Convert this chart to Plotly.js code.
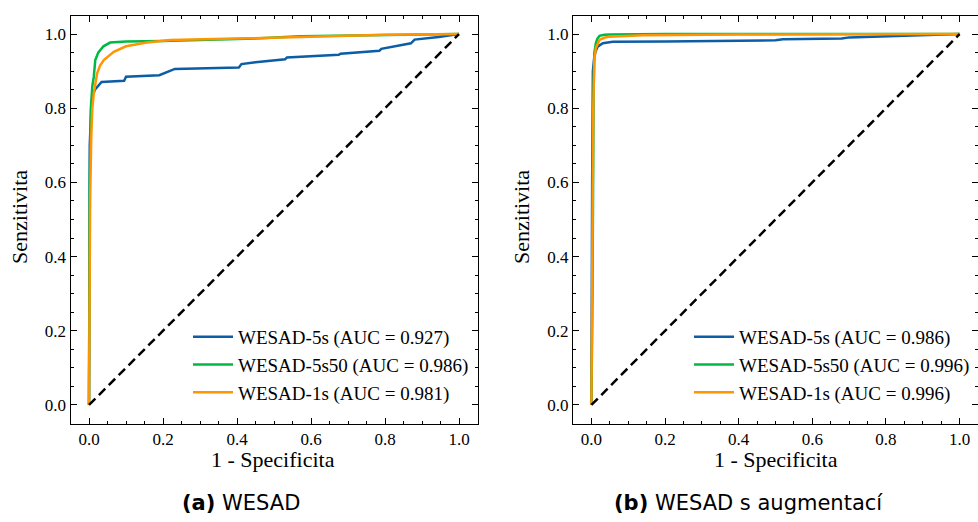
<!DOCTYPE html>
<html><head><meta charset="utf-8">
<script src="https://cdn.plot.ly/plotly-3.0.1.min.js"></script>
<style>html,body{margin:0;padding:0;background:#fff}#chart{width:978px;height:522px}</style>
</head><body><div id="chart"></div>
<script>
// ---- data (a) WESAD ----
const a_5s_fpr   = [0, 0, 0.002, 0.006, 0.010, 0.016, 0.025, 0.034, 0.095, 0.100, 0.190, 0.215, 0.232, 0.405, 0.412, 0.450, 0.530, 0.535, 0.675, 0.680, 0.785, 0.790, 0.870, 0.880, 0.945, 1.0];
const a_5s_tpr   = [0, 0.40, 0.70, 0.80, 0.835, 0.850, 0.862, 0.871, 0.874, 0.885, 0.889, 0.900, 0.906, 0.910, 0.919, 0.924, 0.932, 0.937, 0.944, 0.947, 0.955, 0.960, 0.975, 0.985, 0.992, 1.0];
const a_5s50_fpr = [0, 0.002, 0.005, 0.009, 0.013, 0.017, 0.025, 0.034, 0.039, 0.057, 0.10, 0.20, 0.30, 0.45, 0.57, 0.70, 0.85, 1.0];
const a_5s50_tpr = [0, 0.60, 0.80, 0.86, 0.885, 0.930, 0.950, 0.961, 0.967, 0.977, 0.980, 0.981, 0.983, 0.988, 0.994, 0.996, 0.998, 1.0];
const a_1s_fpr   = [0, 0.003, 0.006, 0.009, 0.013, 0.022, 0.030, 0.040, 0.067, 0.10, 0.156, 0.22, 0.37, 0.50, 0.64, 0.80, 1.0];
const a_1s_tpr   = [0, 0.55, 0.72, 0.80, 0.840, 0.894, 0.915, 0.930, 0.952, 0.967, 0.977, 0.984, 0.987, 0.990, 0.995, 0.998, 1.0];
// ---- data (b) WESAD s augmentací ----
const b_5s_fpr   = [0, 0.0, 0.002, 0.004, 0.008, 0.012, 0.017, 0.031, 0.058, 0.20, 0.50, 0.52, 0.68, 0.70, 0.81, 0.90, 1.0];
const b_5s_tpr   = [0, 0.30, 0.60, 0.90, 0.94, 0.955, 0.966, 0.975, 0.979, 0.980, 0.983, 0.986, 0.988, 0.991, 0.995, 0.997, 1.0];
const b_5s50_fpr = [0, 0.003, 0.006, 0.008, 0.012, 0.016, 0.022, 0.035, 0.05, 0.2, 1.0];
const b_5s50_tpr = [0, 0.30, 0.85, 0.95, 0.975, 0.987, 0.995, 0.998, 0.999, 1.0, 1.0];
const b_1s_fpr   = [0, 0.003, 0.005, 0.008, 0.012, 0.022, 0.035, 0.049, 0.10, 0.14, 0.40, 1.0];
const b_1s_tpr   = [0, 0.45, 0.80, 0.93, 0.962, 0.984, 0.990, 0.993, 0.996, 0.997, 0.999, 1.0];
const diag = [0, 1];

const names_a = ['WESAD-5s (AUC = 0.927)', 'WESAD-5s50 (AUC = 0.986)', 'WESAD-1s (AUC = 0.981)'];
const names_b = ['WESAD-5s (AUC = 0.986)', 'WESAD-5s50 (AUC = 0.996)', 'WESAD-1s (AUC = 0.996)'];
const tickVals = [0, 0.2, 0.4, 0.6, 0.8, 1.0];
const colors = ['#0C5DA5', '#00B945', '#FF9500'];

const serif = 'Liberation Serif, DejaVu Serif, serif';
const sans = 'DejaVu Sans, Liberation Sans, sans-serif';

function tr(x, y, name, color, xa, ya, leg) {
  return {x: x, y: y, name: name, type: 'scatter', mode: 'lines', xaxis: xa, yaxis: ya, legend: leg,
    line: {color: color, width: 2.5}};
}
const data = [
  tr(a_5s_fpr, a_5s_tpr, names_a[0], colors[0], 'x', 'y', 'legend'),
  tr(a_5s50_fpr, a_5s50_tpr, names_a[1], colors[1], 'x', 'y', 'legend'),
  tr(a_1s_fpr, a_1s_tpr, names_a[2], colors[2], 'x', 'y', 'legend'),
  {x: diag, y: diag, type: 'scatter', mode: 'lines', xaxis: 'x', yaxis: 'y', showlegend: false,
    line: {color: '#000', width: 2.5, dash: '9px,5px'}},
  tr(b_5s_fpr, b_5s_tpr, names_b[0], colors[0], 'x2', 'y2', 'legend2'),
  tr(b_5s50_fpr, b_5s50_tpr, names_b[1], colors[1], 'x2', 'y2', 'legend2'),
  tr(b_1s_fpr, b_1s_tpr, names_b[2], colors[2], 'x2', 'y2', 'legend2'),
  {x: diag, y: diag, type: 'scatter', mode: 'lines', xaxis: 'x2', yaxis: 'y2', showlegend: false,
    line: {color: '#000', width: 2.5, dash: '9px,5px'}}
];

function ax(domain, anchor) {
  return {domain: domain, anchor: anchor, range: [-0.05, 1.05], tickvals: tickVals, tickformat: '.1f',
    ticks: 'inside', ticklen: 6, tickwidth: 1, tickcolor: '#000', mirror: 'allticks',
    showline: true, linecolor: '#000', linewidth: 1, showgrid: false, zeroline: false,
    tickfont: {family: serif, size: 17, color: '#000'},
    minor: {dtick: 0.05, tick0: 0, ticks: 'inside', ticklen: 3, tickcolor: '#000', showgrid: false}};
}
const yd = [1 - 423.5/522, 1 - 15.5/522];
const legFont = {family: serif, size: 19, color: '#000'};
function ann(text, xp, yp, font, angle) {
  return {text: text, x: xp/978, y: 1 - yp/522, xref: 'paper', yref: 'paper', showarrow: false,
    xanchor: 'center', yanchor: 'middle', textangle: angle || 0, font: font};
}
const titleFont = {family: serif, size: 22, color: '#000'};
const capFont = {family: sans, size: 21, color: '#000'};
const layout = {
  width: 978, height: 522, margin: {l: 0, r: 0, t: 0, b: 0},
  paper_bgcolor: '#fff', plot_bgcolor: '#fff', showlegend: true,
  xaxis: ax([70.5/978, 477.5/978], 'y'),
  yaxis: ax(yd, 'x'),
  xaxis2: ax([573/978, 1.0], 'y2'),
  yaxis2: ax(yd, 'x2'),
  legend: {x: 474/978, y: 1 - 318/522, xanchor: 'right', yanchor: 'top', bgcolor: 'rgba(255,255,255,0)',
    font: legFont, tracegroupgap: 0, itemwidth: 40},
  legend2: {x: 975/978, y: 1 - 318/522, xanchor: 'right', yanchor: 'top', bgcolor: 'rgba(255,255,255,0)',
    font: legFont, tracegroupgap: 0, itemwidth: 40},
  annotations: [
    ann('1 - Specificita', 273, 459, titleFont),
    ann('1 - Specificita', 776, 459, titleFont),
    ann('Senzitivita', 20, 217, titleFont, -90),
    ann('Senzitivita', 522, 217, titleFont, -90),
    ann('<b>(a)</b> WESAD', 241, 503, capFont),
    ann('<b>(b)</b> WESAD s augmentací', 748, 503, capFont)
  ]
};
Plotly.newPlot('chart', data, layout, {staticPlot: true});
</script></body></html>
